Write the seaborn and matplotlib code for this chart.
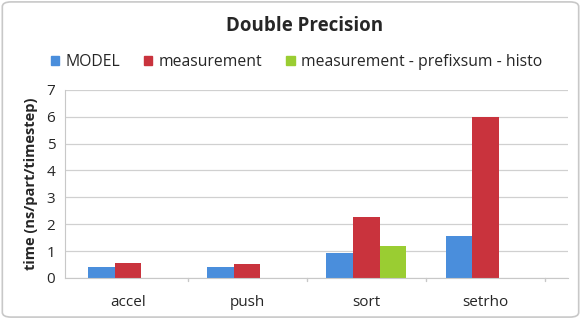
import matplotlib
matplotlib.use("Agg")
import matplotlib.pyplot as plt
from matplotlib.patches import FancyBboxPatch
import seaborn as sns
import pandas as pd

categories = ["accel", "push", "sort", "setrho"]
series = ["MODEL", "measurement", "measurement - prefixsum - histo"]
model = [0.41, 0.39, 0.91, 1.57]
measurement = [0.56, 0.51, 2.28, 6.0]
prefix_cats = ["sort"]
prefix_vals = [1.19]

rows = []
for c, v in zip(categories, model):
    rows.append({"kernel": c, "series": series[0], "time": v})
for c, v in zip(categories, measurement):
    rows.append({"kernel": c, "series": series[1], "time": v})
for c, v in zip(prefix_cats, prefix_vals):
    rows.append({"kernel": c, "series": series[2], "time": v})
df = pd.DataFrame(rows)

sns.set_style("white")
plt.rcParams["font.family"] = ["Open Sans", "DejaVu Sans"]

colors = ["#4A8EDC", "#C9333D", "#9ACD32"]

fig = plt.figure(figsize=(5.81, 3.19), dpi=100)
fig.patch.set_facecolor("white")
border = FancyBboxPatch((0.004, 0.006), 0.992, 0.988, boxstyle="round,pad=0,rounding_size=0.015",
                        transform=fig.transFigure, facecolor="none", edgecolor="#c8c8c8", lw=1.2, zorder=5)
fig.patches.append(border)

ax = fig.add_axes([0.112, 0.129, 0.866, 0.589])
sns.barplot(data=df, x="kernel", y="time", hue="series", order=categories, hue_order=series,
            palette=colors, width=0.67, gap=0, saturation=1, linewidth=0, ax=ax, legend=False)

ax.set_ylim(0, 7)
ax.set_yticks(range(0, 8))
ax.yaxis.grid(True, color="#d0d0d0", lw=0.9)
ax.set_axisbelow(True)
for s in ["top", "right"]:
    ax.spines[s].set_visible(False)
ax.spines["left"].set_color("#c8c8c8")
ax.spines["bottom"].set_color("#c8c8c8")
ax.tick_params(axis="y", length=0, labelsize=11, pad=7)
ax.tick_params(axis="x", length=0, labelsize=11, pad=12)
ax.set_xlabel("")
ax.set_ylabel("time (ns/part/timestep)", fontsize=10.5, fontweight="bold", labelpad=6)
for xb in [0.5, 1.5, 2.5, 3.5]:
    ax.plot([xb, xb], [0, -0.12], color="#c8c8c8", lw=1, clip_on=False)

fig.text(0.525, 0.92, "Double Precision", ha="center", va="center", fontsize=13.5, fontweight="bold")

handles = [plt.Rectangle((0, 0), 1, 1, color=c) for c in colors]
fig.legend(handles, series, loc="center", bbox_to_anchor=(0.51, 0.805), ncol=3, frameon=False,
           fontsize=11.3, handlelength=0.55, handleheight=0.55, handletextpad=0.4, columnspacing=1.5)

fig.savefig("out.png", dpi=100)
